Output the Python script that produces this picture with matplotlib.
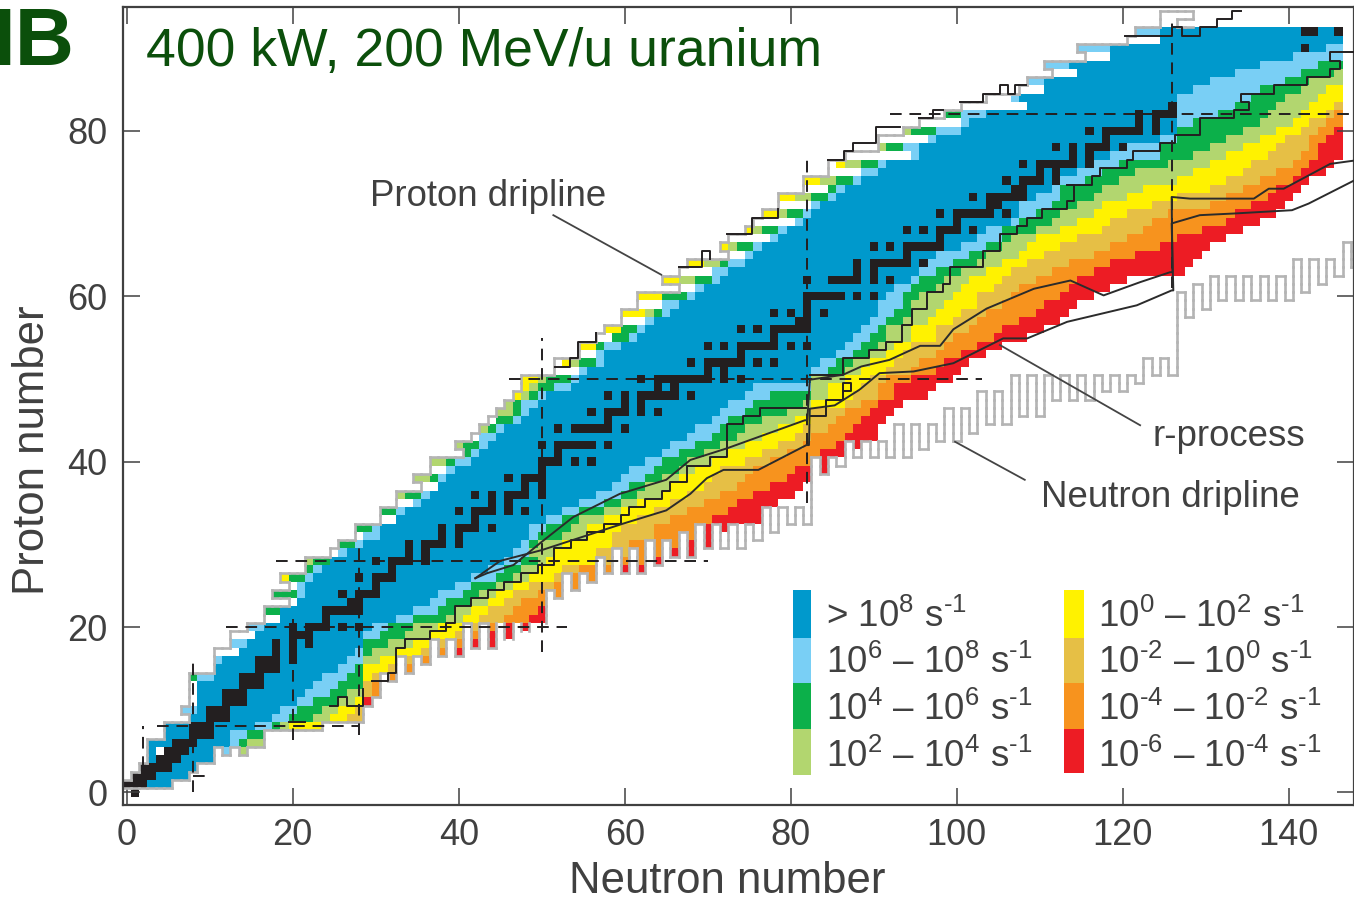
import numpy as np
import matplotlib
matplotlib.use('Agg')
import matplotlib.pyplot as plt
from matplotlib.colors import ListedColormap
from matplotlib.collections import LineCollection
from matplotlib.patches import Rectangle

# proton side, one value per row Z=1..92 (first N of each band)
p_edge = [0,1,2,3,3,3,5,5,8,7,8,8,8,8,11,11,11,13,13,15,17,17,20,18,20,19,22,22,25,26,28,28,31,31,33,33,36,35,37,37,41,40,42,43,44,45,46,47,48,48,
          52,52,55,55,57,58,60,60,62,62,67,65,67,68,73,72,73,75,76,77,79,79,82,82,85,85,87,91,91,94,96,99,101,104,108,109,112,111,116,115,121,122]
p_yel = [0,1,2,3,3,3,5,5,8,7,9,9,9,8,11,11,14,13,16,15,19,17,21,18,21,19,22,22,26,26,29,28,33,31,35,33,38,35,39,37,41,40,43,43,45,45,46,47,48,48,
         55,53,57,55,59,58,63,60,65,62,69,65,71,68,75,72,78,75,81,77,83,79,86,82,89,86,95,91,97,94,101,99,109,107,111,109,115,111,119,115,125,122]
p_lg = [0,1,2,3,3,3,5,5,8,7,9,9,9,8,11,11,14,13,16,15,19,17,21,18,21,20,22,22,26,26,29,28,33,31,35,33,38,35,39,37,41,40,43,43,45,45,46,48,49,50,
        55,54,57,57,59,60,63,63,65,65,69,67,71,70,75,73,78,76,81,79,83,81,86,84,89,87,95,91,97,94,101,99,109,107,111,109,115,111,119,115,125,122]
p_gr = [0,1,2,3,3,3,5,5,8,7,9,9,9,8,11,11,14,13,16,15,19,17,21,18,21,20,22,23,26,26,29,28,33,31,35,34,38,37,39,39,41,41,43,44,45,47,47,49,50,51,
        55,55,57,57,59,60,63,64,65,65,69,69,71,72,75,74,78,77,81,80,83,83,85,86,89,89,95,92,97,95,101,99,109,107,111,109,115,111,119,115,125,122]
p_lb = [0,1,2,3,3,3,5,5,8,7,9,9,9,9,11,11,14,13,16,15,19,19,21,21,21,22,23,25,26,28,29,30,33,33,35,36,38,38,39,40,42,43,43,45,47,48,48,50,52,54,
        55,57,57,58,61,62,63,65,65,68,69,71,71,73,75,76,78,79,81,82,83,85,86,88,89,91,95,94,97,98,101,101,109,107,111,109,115,111,119,115,125,122]
p_blue = [0,1,2,3,3,3,5,5,8,9,9,9,9,11,11,12,14,15,16,17,19,19,21,22,22,23,24,25,27,29,31,31,33,34,36,37,38,39,40,42,43,44,45,46,48,49,50,51,54,55,
          56,58,58,60,62,63,64,66,67,69,70,72,73,75,76,77,79,80,82,83,84,86,87,89,91,92,96,96,98,101,102,104,109,108,111,111,115,114,119,119,125,125]

# neutron side, one value per row Z=1..92
n_lb = [6,8,9,11,12,13,13,16,18,19,21,22,23,24,26,27,28,29,29,30,33,35,37,38,40,42,44,46,47,48,49,49,51,53,55,57,59,60,61,63,65,66,68,69,71,72,73,75,76,83,
        83,84,86,87,88,89,90,91,91,92,93,95,96,97,98,101,103,104,107,108,108,110,112,113,115,117,119,121,125,127,127,127,127,127,129,131,134,137,141,145,147,147]
n_gr = [6,8,9,11,14,14,15,18,20,21,23,25,26,27,28,29,29,29,31,32,35,38,39,41,42,45,46,48,49,49,50,51,53,55,58,60,61,63,64,65,67,69,71,72,73,75,76,78,83,83,
        85,86,88,89,90,91,92,93,94,94,95,96,98,100,102,104,106,106,108,110,112,113,113,116,118,120,125,125,127,127,129,132,134,136,137,140,142,144,147,147,147,147]
n_lg = [6,8,9,11,14,15,17,19,23,24,26,27,29,29,29,29,30,32,34,35,39,40,42,43,45,47,48,50,49,50,53,54,55,58,60,62,63,65,67,68,70,72,74,75,77,80,82,83,83,83,
        87,88,90,91,92,92,94,95,95,96,98,99,101,103,104,106,107,110,112,113,115,117,118,120,122,126,129,131,133,135,137,138,139,140,142,143,146,147,147,147,147,147]
n_ye = [6,8,9,11,15,17,19,20,25,26,28,29,29,29,29,31,33,35,37,38,41,42,44,45,47,49,50,51,52,53,56,56,58,60,62,65,66,67,69,71,73,75,77,79,81,83,83,85,85,87,
        89,90,92,93,95,95,97,98,99,100,101,102,104,106,108,109,110,113,115,117,118,121,123,127,129,131,133,135,137,139,141,142,143,144,145,147,147,147,147,147,147,147]
n_go = [6,8,9,11,15,17,19,24,27,28,29,29,29,30,32,34,36,38,40,41,43,44,46,47,49,52,53,57,57,59,59,60,62,64,66,68,70,71,72,75,77,79,81,82,83,83,87,88,89,90,
        92,93,94,95,98,98,100,101,103,103,105,106,107,109,111,113,115,118,119,121,124,127,131,133,135,136,138,139,140,142,143,145,146,147,147,147,147,147,147,147,147,147]
n_or = [6,8,9,11,15,17,19,24,29,29,29,30,30,32,34,36,38,40,41,44,46,47,48,50,52,54,55,60,61,61,64,64,66,68,70,72,74,75,76,78,80,82,83,85,86,87,89,91,91,92,
        95,96,98,99,100,102,103,104,106,107,108,110,112,114,117,119,121,123,124,126,131,133,135,137,139,141,142,143,143,144,145,146,147,147,147,147,147,147,147,147,147,147]
n_re = [6,8,9,11,15,17,19,24,29,29,29,31,31,35,37,41,40,42,44,46,49,50,51,53,56,59,60,64,66,67,69,69,71,73,74,76,78,80,81,83,84,86,87,88,89,90,91,93,93,95,
        98,99,101,103,105,106,108,110,111,113,114,115,117,119,122,125,127,130,133,134,136,138,139,141,142,143,144,144,145,146,147,147,147,147,147,147,147,147,147,147,147,147]
n_end = [6,8,9,11,15,17,19,24,29,29,30,31,31,35,37,41,42,46,51,51,51,51,51,53,56,59,63,65,69,71,72,73,77,77,79,81,82,83,85,85,88,89,91,91,92,93,94,97,98,100,
         101,102,104,106,109,111,113,114,115,117,119,121,128,129,130,131,133,135,137,139,140,141,142,143,145,146,147,147,147,147,147,147,147,147,147,147,147,147,147,147,147,147]

# lower limit of the dripline outline, one value per column N=0..149
drip_low = [-0.5,-0.5,0.5,0.5,0.5,0.5,1.5,1.5,2.5,3.5,3.5,5.5,4.5,5.5,4.5,5.5,5.5,7.5,7.5,7.5,
            7.5,7.5,7.5,7.5,8.5,8.5,8.5,8.5,8.5,10.5,11.5,14.5,13.5,16.5,14.5,16.5,15.5,18.5,16.5,18.5,
            16.5,20.5,17.5,20.5,17.5,20.5,18.5,20.5,19.5,20.5,20.5,24.5,23.5,26.5,24.5,26.5,25.5,28.5,26.5,29.5,
            26.5,29.5,26.5,30.5,27.5,30.5,28.5,31.5,28.5,32.5,29.5,32.5,29.5,32.5,29.5,32.5,30.5,34.5,31.5,34.5,
            32.5,34.5,32.5,40.5,38.5,40.5,39.5,42.5,40.5,42.5,40.5,42.5,40.5,44.5,40.5,44.5,41.5,44.5,42.5,46.5,
            42.5,46.5,43.5,48.5,44.5,48.5,44.5,50.5,45.5,50.5,45.5,50.5,47.5,50.5,47.5,50.5,47.5,50.5,48.5,50.5,
            48.5,50.5,49.5,52.5,50.5,52.5,50.5,60.5,57.5,61.5,58.5,62.5,59.5,62.5,59.5,62.5,59.5,62.5,59.5,62.5,
            59.5,64.5,60.5,64.5,61.5,64.5,62.5,66.5,63.5,66.5]

# black cells, neutron numbers by proton number
stable = {0:[1],1:[0,1,2],2:[1,2,3],3:[2,3,4,5],4:[4,5,6],5:[5,6,7],6:[6,7,8],7:[8,9,10],8:[8,9,10],9:[10,11,12],10:[10,11,12],11:[12,13,14],12:[12,13,14],
          13:[14,15,16],14:[14,15,16],15:[16,17,18],16:[16,17,18,20],17:[18,20],18:[18,20,22],19:[20,21,22],20:[20,22,23,24,26,28],
          21:[24],22:[24,25,26,27,28],23:[27,28],24:[26,28,29,30],25:[30],26:[28,30,31,32],27:[32],28:[30,32,33,34,36],
          29:[34,36],30:[34,36,37,38,40],31:[38,40],32:[38,40,41,42,44],33:[42],34:[40,42,43,44,46,48],35:[44,46],
          36:[42,44,46,47,48,50],37:[48,50],38:[46,48,49,50],39:[50],40:[50,51,52,54,56],41:[52],42:[50,52,53,54,55,56,58],
          44:[52,54,55,56,57,58,60],45:[58],46:[56,58,59,60,62,64],47:[60,62],48:[58,60,62,63,64,65,66,68],49:[64,66],
          50:[62,64,65,66,67,68,69,70,72,74],51:[70,72],52:[68,70,71,72,73,74,76,78],53:[74],54:[70,72,74,75,76,77,78,80,82],
          55:[78],56:[74,76,78,79,80,81,82],57:[81,82],58:[78,80,82,84],59:[82],60:[82,83,84,85,86,88,90],
          62:[82,85,86,87,88,90,92],63:[88,90],64:[88,90,91,92,93,94,96],65:[94],66:[90,92,94,95,96,97,98],67:[98],
          68:[94,96,98,99,100,102],69:[100],70:[98,100,101,102,103,104,106],71:[104,105],72:[102,104,105,106,107,108],
          73:[107,108],74:[106,108,109,110,112],75:[110,112],76:[108,110,111,112,113,114,116],77:[114,116],
          78:[112,114,116,117,118,120],79:[118],80:[116,118,119,120,121,122,124],81:[122,124],82:[122,124,125,126],83:[126],
          90:[142],92:[142,143,146]}

# r-process paths
r_upper_n = [42,43.4,46.6,50,53.8,59.4,65,67.9,72.3,81.7,82,82.3,86.3,88.5,91.9,93.2,95.6,98,99.6,103.6,109.3,113.7,117.7,122.1,125.7,126,125.9,128.1,135.8,137.6,139.4,145,147.9]
r_upper_z = [25.9,26.5,27.5,30.3,33.3,36.1,37.8,40.2,41.6,45,45,49.9,50.5,51.5,52.3,52.9,54,54,56,58.5,60.9,61.9,60.1,61.7,62.9,62.9,72,71.8,71.8,73,73,76,76.4]
r_lower_n = [42,45,50,59.8,65,67.9,69.9,71.9,76.1,81.9,82.2,82.3,85.3,88.3,90.7,94.8,99.6,100.4,105.6,108.5,113.3,121.7,125.9,126.1,125.9,129.3,133.4,140.4,142.4,147.9]
r_lower_z = [25.9,28,29.3,32.5,34.1,36.1,38,39,39,42,42,46.4,46.8,48.7,50.7,50.9,51.9,52.3,54.9,54.9,56.9,58.9,60.7,60.7,68.8,69.8,70,70.4,71.2,74]

# black stepped limits, drawn as pieces
limit_n_side = [
    ([19.5,21.5],[8.5,8.5]),
    ([24.5,25.5,26.5,28.5],[10.5,11.5,10.5,12.5]),
    ([29.5,31.5,32.5,33.5,36.5,38.5,39.5,41.5,43.5,45.5,47.5,49.5,51.5,53.5,55.5,57.5,59.5,60.5,62.5,64.5,65.5,67.5,70.3,72.3,74.3,76.3,78.5,81.9],
     [13.5,14.5,17.5,18.5,19.5,20.5,22.5,23.5,24.5,25.5,26.5,27.5,29.5,30.5,31.5,32.5,33.5,34.5,35.5,36.5,37.5,39.5,40.5,44.5,45.5,46.5,46.5,46.5]),
    ([82.3,84.3,86.3,87.3,86.3],[45.5,47.5,49.5,48.5,48.5]),
    ([82.3,86.3,89.4,91.5,93.4,94.6,96.4,98.4,99.2,102.4,103.2,105.2,107.3,108.5,110.3,113.3,114.1,113.3,116.3,117.3,120.5,121.3,124.5,126.3,129.3,133.4,135.2,134.2,137.2,138.2,142.2,145,146.2,145,147.9],
     [50.5,52.5,53.5,54.5,56.5,58.5,60.5,61.5,63.5,63.5,65.5,67.5,68.5,69.5,70.5,71.5,73.5,73.5,74.5,75.5,76.5,77.5,78.5,79.5,81.5,82.5,83.5,84.5,84.5,85.5,86.5,87.5,88.5,89.5,89.5])]
limit_p_side = [
    ([51.6,53.4,54.4,56.6],[51.5,52.5,54.5,55.5]),
    ([66.5,69.3,70.3],[63.5,65.5,64.5]),
    ([72.3,75.3,78.5],[67.5,69.5,70.5]),
    ([84.5,86.4,87.5,90.3,93.2],[76.5,77.5,78.5,80.5,80.5]),
    ([95.4,97.2,98.4],[81.5,82.5,82.5]),
    ([100.4,103.2,105.2,106.2,107,108.3],[83.5,84.5,85.5,84.5,85.5,85.5]),
    ([120.3,126,127.1,129.3,131.4,133.2,134.2],[91.5,92.5,91.5,92.5,93.5,94.5,94.5])]

# dashed magic numbers
magic_n = [2,8,20,28,50,82,126]
magic_n_lo = [3,0,6.3,7,17,35,61]
magic_n_hi = [8,16,21,30,55,77,93]
magic_z = [2,8,20,28,50,82]
magic_z_lo = [8,3.6,12,18,46,92]
magic_z_hi = [9.5,28,53,70,103,148]

band_colors = ['#0099cc','#79cff5','#0cb04a','#b2d66f','#fff200','#e6bf45','#f7931e','#ed1c24']
legend_left = [r'> $10^{8}$ s$^{\text{-}1}$',r'$10^{6}$ – $10^{8}$ s$^{\text{-}1}$',r'$10^{4}$ – $10^{6}$ s$^{\text{-}1}$',r'$10^{2}$ – $10^{4}$ s$^{\text{-}1}$']
legend_right = [r'$10^{0}$ – $10^{2}$ s$^{\text{-}1}$',r'$10^{\text{-}2}$ – $10^{0}$ s$^{\text{-}1}$',r'$10^{\text{-}4}$ – $10^{\text{-}2}$ s$^{\text{-}1}$',r'$10^{\text{-}6}$ – $10^{\text{-}4}$ s$^{\text{-}1}$']

plt.rcParams['font.family'] = ['Liberation Sans','DejaVu Sans']
plt.rcParams['mathtext.fontset'] = 'custom'
plt.rcParams['mathtext.rm'] = 'Liberation Sans'
plt.rcParams['mathtext.default'] = 'regular'
W, H = 1354, 897
DARK = '#404040'

BLUE, LTB, GRN, LTG, YEL, GOLD, ORG, RED, WHITE, BLACK = range(10)

nZ, nN = 95, 150
grid = np.full((nZ, nN), np.nan)
mask = np.zeros((nZ, nN), dtype=bool)
for i in range(92):
    z = i + 1
    starts = [p_yel[i],p_lg[i],p_gr[i],p_lb[i],p_blue[i],n_lb[i],n_gr[i],n_lg[i],n_ye[i],n_go[i],n_or[i],n_re[i],n_end[i]]
    cats = [YEL,LTG,GRN,LTB,BLUE,LTB,GRN,LTG,YEL,GOLD,ORG,RED]
    grid[z, p_edge[i]:p_yel[i]] = WHITE
    for k, c in enumerate(cats):
        grid[z, starts[k]:starts[k+1]] = c
    for n in range(p_edge[i], nN):
        mask[z, n] = z >= drip_low[n]
mask[93, 125:127] = True
mask[94, 125:129] = True
grid[~mask] = np.nan
grid[4:6, 4] = WHITE
for z, ns in stable.items():
    for n in ns:
        grid[z, n] = BLACK

# outline of the bound region
segs = []
for z in range(1, nZ):
    for n in range(nN):
        if not mask[z, n]:
            continue
        if n > 0 and not mask[z, n-1]:
            segs.append([(n-0.5, z-0.5), (n-0.5, z+0.5)])
        if n < nN-1 and not mask[z, n+1]:
            segs.append([(n+0.5, z-0.5), (n+0.5, z+0.5)])
        if not mask[z-1, n] and not 45 <= n <= 50:
            segs.append([(n-0.5, z-0.5), (n+0.5, z-0.5)])
        if (z == nZ-1 or not mask[z+1, n]) and not (z == 92 and n >= 129):
            segs.append([(n-0.5, z+0.5), (n+0.5, z+0.5)])

fig = plt.figure(figsize=(W/100, H/100), dpi=100)
ax = fig.add_axes([123/W, 1-805/H, (W-123)/W, (805-7)/H])
cmap = ListedColormap(band_colors + ['#ffffff','#231f20'])
ax.pcolormesh(np.arange(nN+1)-0.5, np.arange(nZ+1)-0.5, np.ma.masked_invalid(grid), cmap=cmap, vmin=-0.5, vmax=9.5, antialiased=False, zorder=1)
ax.add_collection(LineCollection(segs, colors='#b4b4b4', linewidths=1.9, capstyle='projecting', zorder=2))

for n, lo, hi in zip(magic_n, magic_n_lo, magic_n_hi):
    ax.plot([n, n], [lo, hi], color='#231f20', lw=1.4, ls=(0,(6,4)), zorder=4)
for z, lo, hi in zip(magic_z, magic_z_lo, magic_z_hi):
    ax.plot([lo, hi], [z, z], color='#231f20', lw=1.4, ls=(0,(6,4)), zorder=4)
for xs, ys in limit_n_side + limit_p_side:
    ax.step(xs, ys, where='post', color='#231f20', lw=1.4, zorder=5)
ax.plot(r_upper_n, r_upper_z, color='#2b2b2b', lw=1.4, zorder=5)
ax.plot(r_lower_n, r_lower_z, color='#2b2b2b', lw=1.4, zorder=5)

# leaders
ax.plot([51.4,64.4],[69.8,62.6], color='#444444', lw=1.3, zorder=6)
ax.plot([105.2,122.1],[54.1,44.4], color='#444444', lw=1.3, zorder=6)
ax.plot([99.8,108.2],[42.4,37.8], color='#444444', lw=1.3, zorder=6)

ax.set_xlim(-0.45, 147.87)
ax.set_ylim(-1.52, 94.97)
ax.set_xticks(np.arange(0, 141, 20))
ax.set_yticks(np.arange(0, 81, 20))
ax.tick_params(direction='in', length=12, width=1.1, color=DARK, labelcolor=DARK, top=True, right=True, labelsize=26)
ax.tick_params(axis='x', pad=9)
ax.tick_params(axis='y', pad=11)
for s in ax.spines.values():
    s.set_color(DARK)
    s.set_linewidth(1.6)

def ftext(x, y, s, **kw):
    return fig.text(x/W, 1-y/H, s, **kw)

ftext(-8, 65, 'IB', fontsize=59, fontweight='bold', color='#0b4f0b', ha='left', va='baseline')
ftext(146, 66, '400 kW, 200 MeV/u uranium', fontsize=38.5, color='#0b4f0b', ha='left', va='baseline')
ftext(727, 893, 'Neutron number', fontsize=31.5, color=DARK, ha='center', va='baseline')
ftext(33, 450, 'Proton number', fontsize=31.5, color=DARK, ha='center', va='center', rotation=90)
ftext(488, 206, 'Proton dripline', fontsize=26.4, color=DARK, ha='center', va='baseline')
ftext(1229, 446, 'r-process', fontsize=26.4, color=DARK, ha='center', va='baseline')
ftext(1170, 507, 'Neutron dripline', fontsize=26.4, color=DARK, ha='center', va='baseline')

sw_tops = [590, 638, 683, 729, 775]
base = [627, 673, 720, 767]
for k in range(4):
    fig.add_artist(Rectangle((793/W, 1-sw_tops[k+1]/H), 18/W, (sw_tops[k+1]-sw_tops[k])/H, transform=fig.transFigure, color=band_colors[k], lw=0))
    fig.add_artist(Rectangle((1064/W, 1-(sw_tops[k+1]-(2 if k == 3 else 0))/H), 20/W, (sw_tops[k+1]-sw_tops[k]-(2 if k == 3 else 0))/H, transform=fig.transFigure, color=band_colors[k+4], lw=0))
    ftext(826, base[k], legend_left[k], fontsize=26.5, color=DARK, ha='left', va='baseline')
    ftext(1098, base[k], legend_right[k], fontsize=26.5, color=DARK, ha='left', va='baseline')

fig.savefig('out.png', dpi=100)
